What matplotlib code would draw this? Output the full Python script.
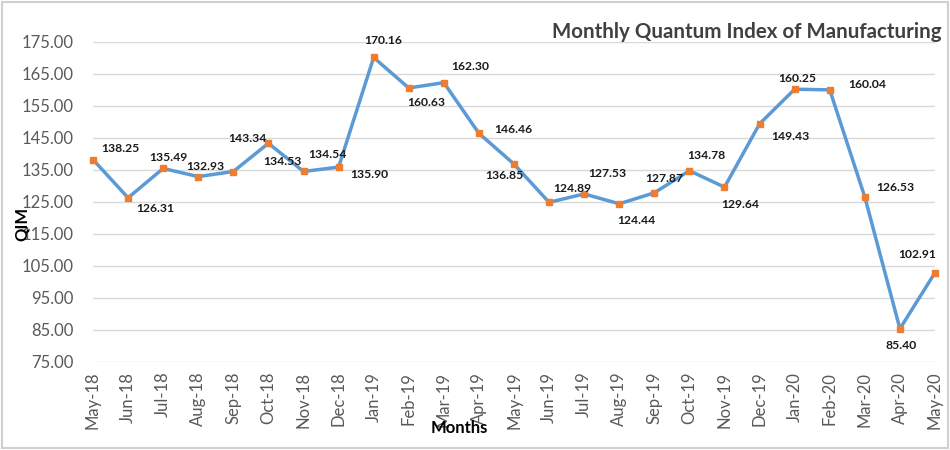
import matplotlib
matplotlib.use("Agg")
import matplotlib.pyplot as plt
from matplotlib.patches import Rectangle

months = ["May-18", "Jun-18", "Jul-18", "Aug-18", "Sep-18", "Oct-18", "Nov-18", "Dec-18",
          "Jan-19", "Feb-19", "Mar-19", "Apr-19", "May-19", "Jun-19", "Jul-19", "Aug-19",
          "Sep-19", "Oct-19", "Nov-19", "Dec-19", "Jan-20", "Feb-20", "Mar-20", "Apr-20", "May-20"]
qim = [138.25, 126.31, 135.49, 132.93, 134.53, 143.34, 134.54, 135.90,
       170.16, 160.63, 162.30, 146.46, 136.85, 124.89, 127.53, 124.44,
       127.87, 134.78, 129.64, 149.43, 160.25, 160.04, 126.53, 85.40, 102.91]
yticks = [75, 85, 95, 105, 115, 125, 135, 145, 155, 165, 175]

# label offsets in pixels (dx, dy; dy positive = up)
label_offsets = [(27, 11), (27, -11), (5, 11), (7, 10), (49, 10), (-21, 5), (24, 17), (31, -7),
                 (10, 17), (18, -15), (26, 16), (34, 4), (-10, -11), (23, 14), (23, 20), (17, -17),
                 (10, 14), (17, 15), (16, -17), (31, -13), (3, 11), (38, 5), (30, 10), (1, -17),
                 (-18, 18)]

fig = plt.figure(figsize=(9.5, 4.5), dpi=100)
ax = fig.add_axes([93/950, 1 - 362/450, (935 - 93)/950, (362 - 42)/450])

x = list(range(len(months)))
ax.plot(x, qim, color="#5B9BD5", linewidth=2.5, marker="s", markersize=5,
        markerfacecolor="#ED7D31", markeredgecolor="#ED7D31", clip_on=False, zorder=3)

for i, (v, (dx, dy)) in enumerate(zip(qim, label_offsets)):
    ax.annotate(f"{v:.2f}", (i, v), xytext=(dx, dy), textcoords="offset pixels",
                ha="center", va="center", fontsize=8.7, fontweight="bold",
                family="Lato", color="#1a1a1a", zorder=4)

ax.set_xlim(0, len(months) - 1)
ax.set_ylim(75, 175)
ax.set_yticks(yticks)
ax.set_yticklabels([f"{t:.2f}" for t in yticks], family="Lato", fontsize=12, color="#595959")
ax.set_xticks(x)
ax.set_xticklabels(months, rotation=90, family="Lato", fontsize=12, color="#595959")
ax.tick_params(axis="both", length=0)
ax.tick_params(axis="y", pad=14)
ax.tick_params(axis="x", pad=7)
ax.grid(axis="y", color="#D9D9D9", linewidth=1)
ax.set_axisbelow(True)
for s in ax.spines.values():
    s.set_visible(False)

fig.text(942/950, 1 - 32/450, "Monthly Quantum Index of Manufacturing", ha="right", va="center",
         fontsize=14.8, fontweight="bold", family="Lato", color="#404040")
fig.text(22/950, 1 - 224/450, "QIM", rotation=90, ha="center", va="center",
         fontsize=12, fontweight="bold", family="Lato", color="#000000")
fig.text(459/950, 1 - 428/450, "Months", ha="center", va="center",
         fontsize=12, fontweight="bold", family="Lato", color="#000000")

fig.patches.append(Rectangle((0.002, 0.004), 0.996, 0.992, transform=fig.transFigure,
                             fill=False, edgecolor="#D0D0D0", linewidth=1.5))

fig.savefig("out.png", dpi=100, facecolor="white")
